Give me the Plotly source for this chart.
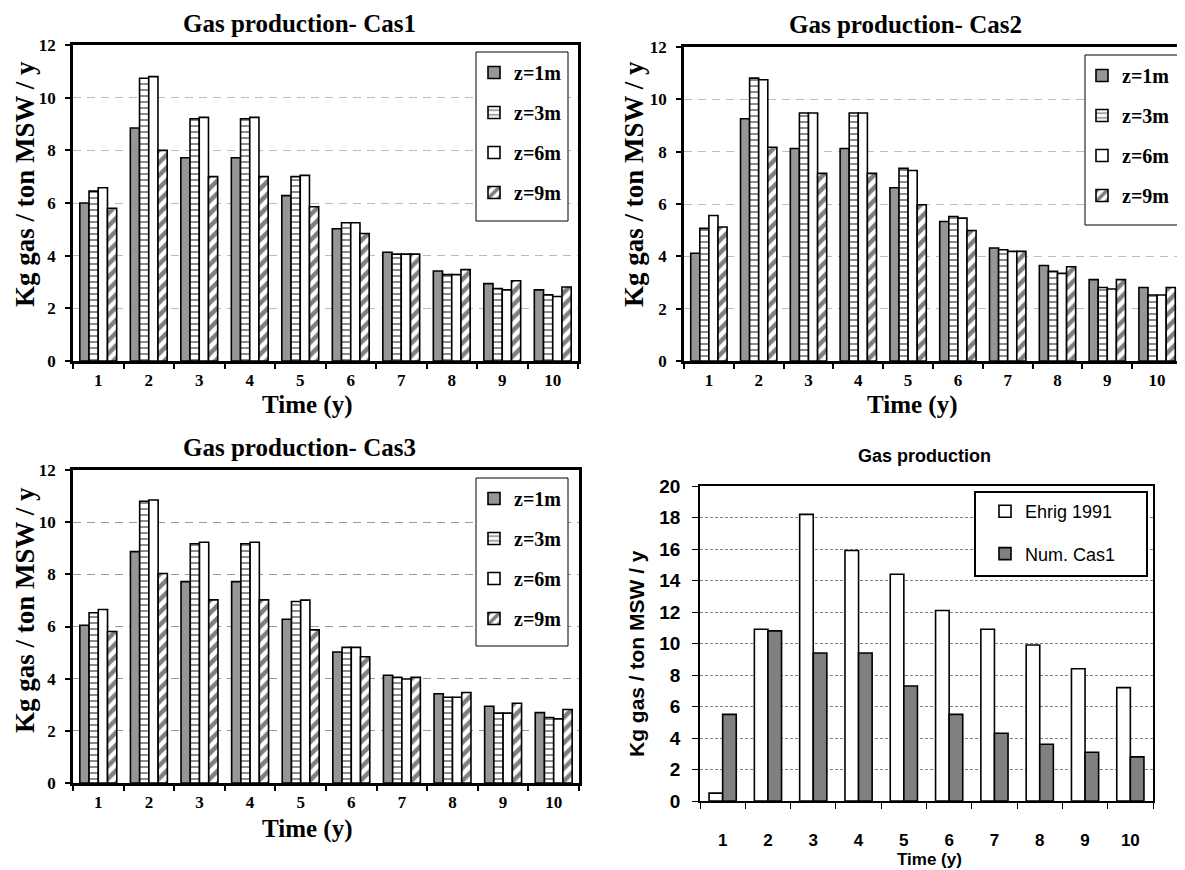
import plotly.graph_objects as go

years = [str(i) for i in range(1, 11)]
series_names = ["z=1m", "z=3m", "z=6m", "z=9m"]

cas1_z1 = [6.0, 8.85, 7.72, 7.72, 6.28, 5.02, 4.13, 3.42, 2.94, 2.70]
cas1_z3 = [6.45, 10.74, 9.2, 9.2, 7.0, 5.25, 4.06, 3.28, 2.75, 2.51]
cas1_z6 = [6.58, 10.8, 9.25, 9.25, 7.05, 5.25, 4.06, 3.28, 2.70, 2.45]
cas1_z9 = [5.8, 8.0, 7.0, 7.0, 5.86, 4.84, 4.06, 3.47, 3.05, 2.81]

cas2_z1 = [4.12, 9.26, 8.12, 8.12, 6.62, 5.33, 4.32, 3.65, 3.11, 2.81]
cas2_z3 = [5.07, 10.81, 9.48, 9.48, 7.36, 5.52, 4.25, 3.43, 2.81, 2.52]
cas2_z6 = [5.56, 10.75, 9.48, 9.48, 7.28, 5.46, 4.19, 3.35, 2.75, 2.52]
cas2_z9 = [5.12, 8.17, 7.17, 7.17, 5.97, 4.99, 4.19, 3.60, 3.11, 2.81]

cas3_z1 = [6.05, 8.87, 7.72, 7.72, 6.28, 5.02, 4.13, 3.42, 2.94, 2.70]
cas3_z3 = [6.53, 10.8, 9.17, 9.17, 6.96, 5.2, 4.05, 3.29, 2.68, 2.51]
cas3_z6 = [6.65, 10.85, 9.23, 9.23, 7.01, 5.2, 3.99, 3.29, 2.68, 2.46]
cas3_z9 = [5.81, 8.03, 7.02, 7.02, 5.87, 4.84, 4.05, 3.47, 3.06, 2.82]

ehrig = [0.5, 10.9, 18.2, 15.9, 14.4, 12.1, 10.9, 9.9, 8.4, 7.2]
num_cas1 = [5.5, 10.8, 9.4, 9.4, 7.3, 5.5, 4.3, 3.6, 3.1, 2.8]

titles = ["Gas production- Cas1", "Gas production- Cas2", "Gas production- Cas3", "Gas production"]
ytitle = "Kg gas / ton MSW / y"
xtitle = "Time (y)"

OFF = 8  # page body margin
W, H = 1185 - OFF, 870 - OFF
SERIF = "Liberation Serif"
SANS = "Liberation Sans"


def px(x):
    return (x - OFF) / W


def py(y):
    return 1 - (y - OFF) / H


def styles(i):
    line = dict(color="black", width=1.6)
    if i == 0:
        return dict(color="#969696", line=line)
    if i == 1:
        return dict(color="white", line=line,
                    pattern=dict(shape="-", fgcolor="black", bgcolor="white", size=6, solidity=0.3))
    if i == 2:
        return dict(color="white", line=line)
    return dict(color="white", line=line,
                pattern=dict(shape="/", fgcolor="black", bgcolor="white", size=9, solidity=0.5))


fig = go.Figure()

panels = [
    (1, [cas1_z1, cas1_z3, cas1_z6, cas1_z9]),
    (2, [cas2_z1, cas2_z3, cas2_z6, cas2_z9]),
    (3, [cas3_z1, cas3_z3, cas3_z6, cas3_z9]),
]
for p, data in panels:
    sfx = "" if p == 1 else str(p)
    for i, (name, vals) in enumerate(zip(series_names, data)):
        fig.add_trace(go.Bar(
            x=years, y=vals, name=name, marker=styles(i),
            xaxis="x" + sfx, yaxis="y" + sfx,
            legend="legend" + sfx, legendgroup=f"p{p}_{i}",
        ))

fig.add_trace(go.Bar(x=years, y=ehrig, name="Ehrig 1991",
                     marker=dict(color="white", line=dict(color="black", width=1.6)),
                     xaxis="x4", yaxis="y4", width=0.3, offset=-0.3,
                     legend="legend4", legendgroup="p4_0"))
fig.add_trace(go.Bar(x=years, y=num_cas1, name="Num. Cas1",
                     marker=dict(color="#808080", line=dict(color="black", width=1.6)),
                     xaxis="x4", yaxis="y4", width=0.3, offset=0.0,
                     legend="legend4", legendgroup="p4_1"))

# panel geometry (page pixels): left, right, top, bottom
geo = {
    1: (73, 578, 45, 361),
    2: (684, 1182, 47, 361),
    3: (73, 579, 470, 783),
    4: (700, 1153, 486, 801),
}

layout = dict(
    width=W, height=H,
    margin=dict(l=0, r=0, t=0, b=0, autoexpand=False),
    paper_bgcolor="white", plot_bgcolor="white",
    barmode="group", bargap=0.27, bargroupgap=0,
    showlegend=True,
)

grid_col = {1: "#bdbdbd", 2: "#bdbdbd", 3: "#9a9a9a"}
for p in (1, 2, 3):
    l, r, t, b = geo[p]
    sfx = "" if p == 1 else str(p)
    layout["xaxis" + sfx] = dict(
        domain=[px(l), px(r)], anchor="y" + sfx, type="category",
        tickson="boundaries", ticks="outside", ticklen=5, tickwidth=1.5, tickcolor="black",
        showline=True, mirror=True, linewidth=2.5, linecolor="black", showgrid=False,
        tickfont=dict(family=SERIF, size=17, color="black", weight="bold"),
        ticklabelstandoff=2,
    )
    layout["yaxis" + sfx] = dict(
        domain=[py(b), py(t)], anchor="x" + sfx, range=[0, 12], dtick=2,
        ticks="outside", ticklen=5, tickwidth=1.5, tickcolor="black",
        showline=True, mirror=True, linewidth=2.5, linecolor="black",
        showgrid=True, gridcolor=grid_col[p], griddash="8px,6px", gridwidth=1.3,
        zeroline=False,
        tickfont=dict(family=SERIF, size=17, color="black", weight="bold"),
        ticklabelstandoff=6,
    )

l, r, t, b = geo[4]
layout["xaxis4"] = dict(
    domain=[px(l), px(r)], anchor="y4", type="category",
    tickson="boundaries", ticks="outside", ticklen=6, tickwidth=1, tickcolor="black",
    showline=True, mirror=True, linewidth=1.5, linecolor="black", showgrid=False,
    tickfont=dict(family=SANS, size=17, color="black", weight="bold"),
    ticklabelstandoff=23,
)
layout["yaxis4"] = dict(
    domain=[py(b), py(t)], anchor="x4", range=[0, 20], dtick=2,
    ticks="outside", ticklen=6, tickwidth=1, tickcolor="black",
    showline=True, mirror=True, linewidth=1.5, linecolor="black",
    showgrid=True, gridcolor="#808080", griddash="3px,2px", gridwidth=0.8,
    zeroline=False,
    tickfont=dict(family=SANS, size=19, color="black", weight="bold"),
    ticklabelstandoff=8,
)

leg_common = dict(xanchor="left", yanchor="top", bgcolor="rgba(0,0,0,0)",
                  borderwidth=0, tracegroupgap=11, itemwidth=30)
serif_leg = dict(family=SERIF, size=20, color="black", weight="bold")
layout["legend"] = dict(x=px(474), y=py(53), font=serif_leg, **leg_common)
layout["legend2"] = dict(x=px(1082), y=py(56), font=serif_leg, **leg_common)
layout["legend3"] = dict(x=px(474), y=py(479), font=serif_leg, **leg_common)
layout["legend4"] = dict(x=px(985), y=py(493),
                         font=dict(family=SANS, size=18, color="black"),
                         xanchor="left", yanchor="top", bgcolor="rgba(0,0,0,0)",
                         borderwidth=0, tracegroupgap=16, itemwidth=30)

fig.update_layout(**layout)

# legend frames (page pixels): left, right, top, bottom, line width
frames = [
    (476, 568, 52, 221, 1),
    (1085, 1178, 55, 225, 1),
    (476, 568, 478, 646, 1),
    (975, 1147, 492, 576, 2),
]
for (l, r, t, b, lw) in frames:
    fig.add_shape(type="rect", xref="paper", yref="paper",
                  x0=px(l), x1=px(r), y0=py(b), y1=py(t),
                  line=dict(color="black", width=lw), fillcolor="white", layer="above")

ann = []
for (cx, cy, txt, fam, sz) in [
    (299, 23, titles[0], SERIF, 25),
    (905, 24, titles[1], SERIF, 25),
    (299, 447, titles[2], SERIF, 25),
    (924, 456, titles[3], SANS, 18),
]:
    ann.append(dict(x=px(cx), y=py(cy), xref="paper", yref="paper", text=txt, showarrow=False,
                    xanchor="center", yanchor="middle",
                    font=dict(family=fam, size=sz, color="black", weight="bold")))
for (cx, cy, fam, sz) in [
    (25, 184, SERIF, 27),
    (634, 184, SERIF, 27),
    (25, 610, SERIF, 27),
    (636, 654, SANS, 21),
]:
    ann.append(dict(x=px(cx), y=py(cy), xref="paper", yref="paper", text=ytitle, showarrow=False,
                    textangle=-90, xanchor="center", yanchor="middle",
                    font=dict(family=fam, size=sz, color="black", weight="bold")))
for (cx, cy, fam, sz) in [
    (307, 405, SERIF, 25),
    (912, 405, SERIF, 25),
    (307, 829, SERIF, 25),
    (929, 859, SANS, 17),
]:
    ann.append(dict(x=px(cx), y=py(cy), xref="paper", yref="paper", text=xtitle, showarrow=False,
                    xanchor="center", yanchor="middle",
                    font=dict(family=fam, size=sz, color="black", weight="bold")))
fig.update_layout(annotations=ann)

fig.write_html("out.html")
